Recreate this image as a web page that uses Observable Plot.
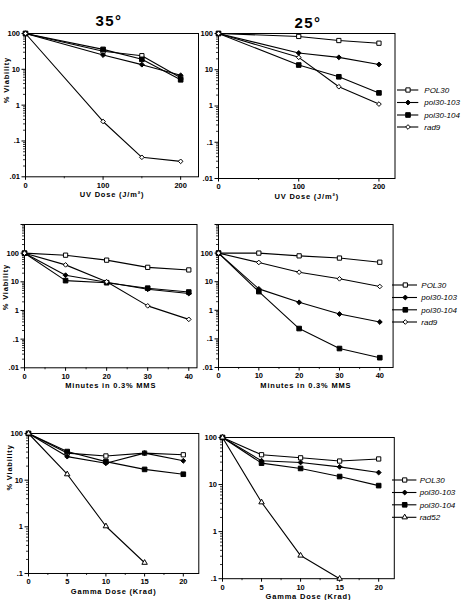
<!DOCTYPE html>
<html>
<head>
<meta charset="utf-8">
<script src="https://cdn.jsdelivr.net/npm/d3@7"></script>
<script src="https://cdn.jsdelivr.net/npm/@observablehq/plot@0.6"></script>
<style>
  body { margin: 0; background: #fff; }
  #fig { position: relative; width: 462px; height: 600px; overflow: hidden;
         font-family: "Liberation Sans", Arial, Helvetica, sans-serif; color: #000; }
  #fig svg { position: absolute; overflow: visible; }
  #fig g[aria-label="text"] { letter-spacing: 0.8px; }
  .temp { position: absolute; font-weight: bold; font-size: 15px; letter-spacing: 1.5px;
          transform: translateX(-50%); line-height: 1; }
</style>
</head>
<body>
<div id="fig"></div>
<script>
// ---- data: % viability after DNA damage, one row per strain ----
const strains = ["POL30", "pol30-103", "pol30-104", "rad9"];
const strainsGamma = ["POL30", "pol30-103", "pol30-104", "rad52"];

const uvDose = [0, 100, 150, 200];          // J/m²
const mmsMinutes = [0, 10, 20, 30, 40];     // minutes in 0.3% MMS
const gammaDose = [0, 5, 10, 15, 20];       // Krad

const uv35 = [
  [100, 32, 24, 5.8],
  [100, 25, 13.5, 6.8],
  [100, 36, 19, 5.1],
  [100, 0.35, 0.035, 0.027]
];
const uv25 = [
  [100, 83, 64, 54],
  [100, 29, 22, 14],
  [100, 13.5, 6.4, 2.3],
  [100, 22, 3.4, 1.13]
];
const mms35 = [
  [100, 85, 57, 32, 26],
  [100, 17, 9.6, 5.5, 3.9],
  [100, 11, 9.3, 6.0, 4.4],
  [100, 39, 10, 1.45, 0.49]
];
const mms25 = [
  [100, 100, 80, 67, 48],
  [100, 5.6, 1.9, 0.74, 0.39],
  [100, 4.5, 0.23, 0.046, 0.022],
  [100, 47, 21.5, 12.6, 6.8]
];
const gamma35 = [
  [100, 38, 33, 38, 35],
  [100, 32, 23, 38, 26],
  [100, 41, 25, 17, 13.4],
  [100, 13.4, 1.03, 0.17]
];
const gamma25 = [
  [100, 43, 37, 31.6, 35],
  [100, 32, 29.5, 23.8, 18],
  [100, 28.5, 22, 14.8, 9.5],
  [100, 4.2, 0.31, 0.1]
];

// y tick labels drop the leading zero: .01 .1 1 10 100
const fmtPct = d => (d >= 1 ? String(d) : String(d).replace(/^0/, ""));
const noText = () => "";

// marker for each strain
const markerStyle = {
  "POL30":     {symbol: "square",    fill: "white", r: 2.4},
  "pol30-103": {symbol: "diamond2",  fill: "black", r: 2.2},
  "pol30-104": {symbol: "square",    fill: "black", r: 2.6},
  "rad9":      {symbol: "diamond2",  fill: "white", r: 2.1},
  "rad52":     {symbol: "triangle2", fill: "white", r: 2.6}
};

const fig = document.getElementById("fig");

function decades(lo, hi) {
  const major = [], minor = [];
  for (let d = lo; d <= hi * 1.0001; d *= 10) {
    major.push(+d.toPrecision(3));
    if (d < hi * 0.999) for (let k = 2; k <= 9; ++k) minor.push(+(d * k).toPrecision(3));
  }
  return {major, minor};
}

// one survival panel; frame edges given in page pixels
function panel(o) {
  const mL = 26, mR = 6, mT = 6, mB = 28;
  const width = o.right - o.left + mL + mR;
  const height = o.bottom - o.top + mT + mB;
  const data = o.series.flatMap((vals, i) =>
    vals.map((v, j) => ({strain: o.names[i], x: o.xs[j], v})));
  const ticks = decades(o.yDomain[0], o.yDomain[1]);
  const unlabeled = ticks.major.filter(d => d > o.yLabelMax);
  const labeled = ticks.major.filter(d => d <= o.yLabelMax);
  const marks = [
    Plot.frame({stroke: "black", strokeWidth: 1}),
    Plot.axisY(ticks.minor, {tickSize: 2, strokeWidth: 0.8, tickFormat: noText, label: null}),
    Plot.axisY(unlabeled, {tickSize: 3.5, tickFormat: noText, label: null}),
    Plot.axisY(labeled, {tickSize: 3.5, tickPadding: 2, tickFormat: fmtPct,
      fontWeight: "bold", fontSize: 7.5, label: null}),
    Plot.axisX(o.xMinor, {tickSize: 2, strokeWidth: 0.8, tickFormat: noText, label: null}),
    Plot.axisX(o.xMajor, {tickSize: 3.5, tickPadding: 2, fontWeight: "bold",
      fontSize: 7.5, label: null}),
    Plot.text([o.xLabel], {frameAnchor: "bottom", dy: o.xLabelDy ?? 20.5,
      fontWeight: "bold", fontSize: 7.5})
  ];
  if (o.yLabel) {
    marks.push(Plot.text([o.yLabel], {frameAnchor: "left", rotate: -90, dx: -18.5,
      dy: o.yLabelDy, fontWeight: "bold", fontSize: 7.5}));
  }
  marks.push(Plot.line(data, {x: "x", y: "v", z: "strain", stroke: "black", strokeWidth: 1.1}));
  for (const name of o.names) {
    const m = markerStyle[name];
    marks.push(Plot.dot(data.filter(d => d.strain === name),
      {x: "x", y: "v", symbol: m.symbol, r: m.r, fill: m.fill, stroke: "black", strokeWidth: 1}));
  }
  const svg = Plot.plot({
    width, height,
    marginLeft: mL, marginRight: mR, marginTop: mT, marginBottom: mB,
    x: {type: "linear", domain: o.xDomain},
    y: {type: "log", domain: o.yDomain},
    style: {background: "transparent", fontFamily: "Liberation Sans, Arial, sans-serif",
            color: "black", overflow: "visible"},
    marks
  });
  svg.style.left = (o.left - mL) + "px";
  svg.style.top = (o.top - mT) + "px";
  fig.appendChild(svg);
}

// legend at the right of each row
function legend(names, ys, x0, x1, xm, xt) {
  const top = ys[0] - 8;
  const svg = d3.select(fig).append("svg")
    .attr("width", 462 - x0 + 4).attr("height", ys[ys.length - 1] - top + 8)
    .style("left", (x0 - 2) + "px").style("top", top + "px");
  const symbols = {square: d3.symbolSquare, diamond2: d3.symbolDiamond2, triangle2: d3.symbolTriangle2};
  names.forEach((name, i) => {
    const y = ys[i] - top, m = markerStyle[name];
    const g = svg.append("g");
    g.append("line").attr("x1", 2).attr("x2", x1 - x0 + 2).attr("y1", y).attr("y2", y)
      .attr("stroke", "black").attr("stroke-width", 1.1);
    g.append("path").attr("d", d3.symbol(symbols[m.symbol], Math.PI * m.r * m.r)())
      .attr("transform", `translate(${xm - x0 + 2},${y})`)
      .attr("fill", m.fill).attr("stroke", "black").attr("stroke-width", 1);
    g.append("text").attr("x", xt - x0 + 2).attr("y", y).attr("dy", "0.35em")
      .attr("font-style", "italic").attr("font-size", 8)
      .attr("font-family", "Liberation Sans, Arial, sans-serif").text(name);
  });
}

function title(text, x, y) {
  const d = document.createElement("div");
  d.className = "temp";
  d.textContent = text;
  d.style.left = x + "px";
  d.style.top = y + "px";
  fig.appendChild(d);
}

title("35°", 109, 13);
title("25°", 308, 15);

// UV
panel({left: 25, right: 198, top: 32.7, bottom: 176, xDomain: [0, 223], yDomain: [0.01, 100],
  yLabelMax: 100, xs: uvDose, series: uv35, names: strains, xMajor: [0, 100, 200], xMinor: [50, 150],
  xLabel: "UV Dose (J/m²)", yLabel: "% Viability", yLabelDy: -2});
panel({left: 217.5, right: 394, top: 33, bottom: 178, xDomain: [0, 220], yDomain: [0.01, 100],
  yLabelMax: 100, xs: uvDose, series: uv25, names: strains, xMajor: [0, 100, 200], xMinor: [50, 150],
  xLabel: "UV Dose (J/m²)"});

// MMS
panel({left: 23.5, right: 196, top: 224, bottom: 367.3, xDomain: [0, 42], yDomain: [0.01, 1000],
  yLabelMax: 100, xs: mmsMinutes, series: mms35, names: strains, xMajor: [0, 10, 20, 30, 40],
  xMinor: [5, 15, 25, 35], xLabel: "Minutes in 0.3% MMS", yLabel: "% Viability", yLabelDy: 14});
panel({left: 217.7, right: 392.3, top: 224, bottom: 367, xDomain: [0, 43.3], yDomain: [0.01, 1000],
  yLabelMax: 100, xs: mmsMinutes, series: mms25, names: strains, xMajor: [0, 10, 20, 30, 40],
  xMinor: [5, 15, 25, 35], xLabel: "Minutes in 0.3% MMS"});

// Gamma
panel({left: 28, right: 198.3, top: 433.3, bottom: 573.3, xDomain: [0, 22], yDomain: [0.1, 100],
  yLabelMax: 100, xs: gammaDose, series: gamma35, names: strainsGamma, xMajor: [0, 5, 10, 15, 20],
  xMinor: [2.5, 7.5, 12.5, 17.5], xLabel: "Gamma Dose (Krad)", yLabel: "% Viability", yLabelDy: -13});
panel({left: 221.5, right: 393.3, top: 436.5, bottom: 577.7, xDomain: [0, 22], yDomain: [0.1, 100],
  yLabelMax: 100, xs: gammaDose, series: gamma25, names: strainsGamma, xMajor: [0, 5, 10, 15, 20],
  xMinor: [2.5, 7.5, 12.5, 17.5], xLabel: "Gamma Dose (Krad)"});

legend(strains, [90, 102.5, 115, 127], 396.7, 418, 407.7, 424);
legend(strains, [285, 297.5, 309.8, 322], 391.7, 416.7, 405, 421);
legend(strainsGamma, [480, 492.5, 504.8, 517.3], 392.3, 416.7, 405, 420);
</script>
</body>
</html>
